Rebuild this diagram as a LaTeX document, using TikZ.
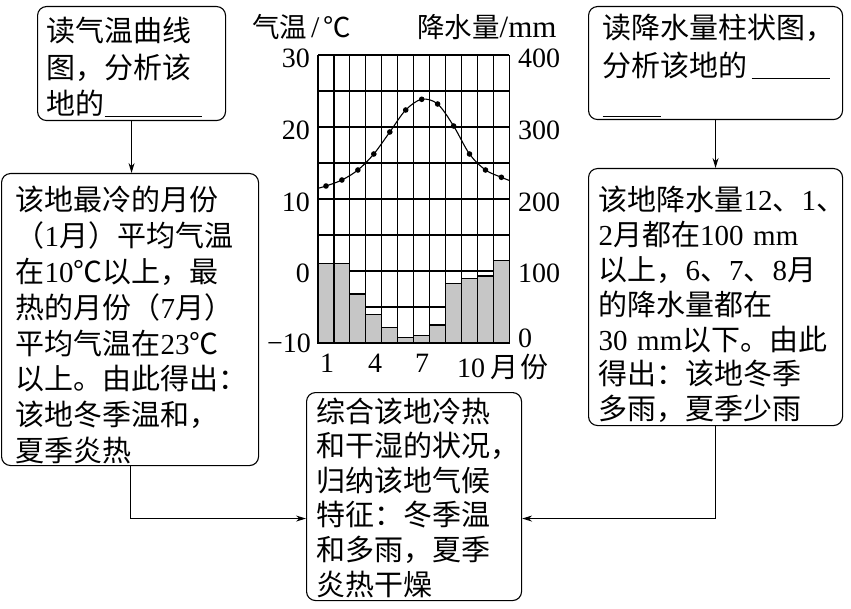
\documentclass[tikz,border=0pt]{standalone}
\usepackage{fontspec}
\setmainfont{Liberation Serif}
\newfontfamily\cjk{Noto Sans CJK SC}
\usetikzlibrary{arrows.meta}
\newcommand{\lat}[1]{{\rmfamily #1}}
\newcommand{\dn}[1]{\rule{0pt}{\dimexpr 25.5pt+#1\relax}}
\begin{document}
\begin{tikzpicture}[x=1pt,y=-1pt,
  box/.style={draw, line width=1.1pt, rounded corners=9pt, anchor=north west, align=left, inner ysep=0pt, font=\cjk\fontsize{29}{35}\selectfont},
  arr/.style={line width=1.1pt, -{Stealth[length=10pt,width=6pt]}},
  gridline/.style={line width=1.1pt},
  num/.style={font=\fontsize{28}{28}\selectfont, inner sep=0pt},
  ttl/.style={font=\cjk\fontsize{27.5}{28}\selectfont, inner sep=0pt, anchor=west},
]
\useasboundingbox (0,0) rectangle (851,609);

% boxes
\node[box, font=\cjk\fontsize{29}{36.5}\selectfont, minimum width=188pt, minimum height=114pt, text width=170pt, inner xsep=9pt] (L1) at (37,6)
  {\dn{6pt}读气温曲线\\图，分析该\\地的\rule[-2pt]{97pt}{1.1pt}};
\node[box, font=\cjk\fontsize{29}{35.9}\selectfont, minimum width=257pt, minimum height=292pt, text width=229pt, inner xsep=14pt] (L2) at (1,173)
  {\dn{10pt}该地最冷的月份\\（\lat{1}月）平均气温\\在\lat{10}℃以上，最\\热的月份（\lat{7}月）\\平均气温在\lat{23}℃\\以上。由此得出：\\该地冬季温和，\\夏季炎热};
\node[box, font=\cjk\fontsize{29}{38}\selectfont, minimum width=254pt, minimum height=113pt, text width=226pt, inner xsep=14pt] (R1) at (588,6)
  {\dn{4pt}读降水量柱状图，\\分析该地的\kern4pt\rule[-2pt]{78pt}{1.1pt}\\\rule[-2pt]{58pt}{1.1pt}};
\node[box, font=\cjk\fontsize{29}{34.8}\selectfont, minimum width=254pt, minimum height=257pt, text width=234pt, inner xsep=10pt] (R2) at (588,168)
  {\dn{14pt}该地降水量\lat{12}、\lat{1}、\\\lat{2}月都在\lat{100~mm}\\以上，\lat{6}、\lat{7}、\lat{8}月\\的降水量都在\\\lat{30~mm}以下。由此\\得出：该地冬季\\多雨，夏季少雨};
\node[box, font=\cjk\fontsize{29}{34.6}\selectfont, minimum width=215pt, minimum height=208pt, text width=195pt, inner xsep=10pt] (B) at (306,392)
  {\dn{1pt}综合该地冷热\\和干湿的状况，\\归纳该地气候\\特征：冬季温\\和多雨，夏季\\炎热干燥};

% connectors
\draw[arr] (L1.south) -- (L1.south |- L2.north);
\draw[arr] (R1.south) -- (R1.south |- R2.north);
\coordinate (bl) at ([yshift=-22pt]B.west);
\coordinate (br) at ([yshift=-22pt]B.east);
\draw[arr] (L2.south) |- (bl);
\draw[arr] (R2.south) |- (br);

% chart grid
\foreach \k in {0,...,8} {
  \pgfmathsetmacro{\yy}{55+36*\k}
  \draw[gridline] (318,\yy) -- (509.4,\yy);
}
\foreach \k in {0,...,12} {
  \pgfmathsetmacro{\xx}{318+15.95*\k}
  \draw[gridline] (\xx,55) -- (\xx,343);
}
% bars
\foreach \p [count=\m] in {110,110,68,40,21,8,10,25,83,89,93,114} {
  \pgfmathsetmacro{\xa}{318+15.95*(\m-1)}
  \pgfmathsetmacro{\xb}{318+15.95*\m}
  \pgfmathsetmacro{\yt}{343-0.72*\p}
  \draw[gridline, fill=gray!45] (\xa,343) rectangle (\xb,\yt);
}
% temperature curve
\draw[line width=1.1pt] plot[smooth, tension=0.55] coordinates {(318,188.3) (326,186) (341.9,180) (357.9,170) (373.8,154) (389.8,132) (405.7,110) (421.7,99.3) (437.6,104) (453.6,126) (469.5,154) (485.5,170) (501.4,177.3) (509.4,180.5)};
\foreach \x/\y in {326/186, 341.9/180, 357.9/170, 373.8/154, 389.8/132, 405.7/110, 421.7/99.3, 437.6/104, 453.6/126, 469.5/154, 485.5/170, 501.4/177.3}
  \fill (\x,\y) circle (2.8pt);

% axis labels
\node[num, anchor=east] (t30) at (310,58) {30};
\node[num, anchor=east] (t20) at (310,130) {20};
\node[num, anchor=east] (t10) at (310,202) {10};
\node[num, anchor=east] (t0) at (310,273) {0};
\node[num, anchor=east] (tm10) at (311,343) {−10};
\node[num, anchor=west] (p400) at (518,58) {400};
\node[num, anchor=west] (p300) at (518,130) {300};
\node[num, anchor=west] (p200) at (518,202) {200};
\node[num, anchor=west] (p100) at (518,273) {100};
\node[num, anchor=west] (p0) at (518,338) {0};
\node[num] (m1) at (327,363) {1};
\node[num] (m4) at (375,363) {4};
\node[num] (m7) at (422,363) {7};
\node[num, anchor=west] (m10) at (457,367) {10\hspace{5pt}{\cjk 月\hspace{2pt}份}};
\node[ttl] (ttemp) at (252,27) {气温\hspace{4pt}{\rmfamily\fontsize{30}{30}\selectfont /}\hspace{4pt}℃};
\node[ttl] (tprec) at (417,27) {降水量{\rmfamily\fontsize{31}{31}\selectfont /mm}};
\end{tikzpicture}
\end{document}
